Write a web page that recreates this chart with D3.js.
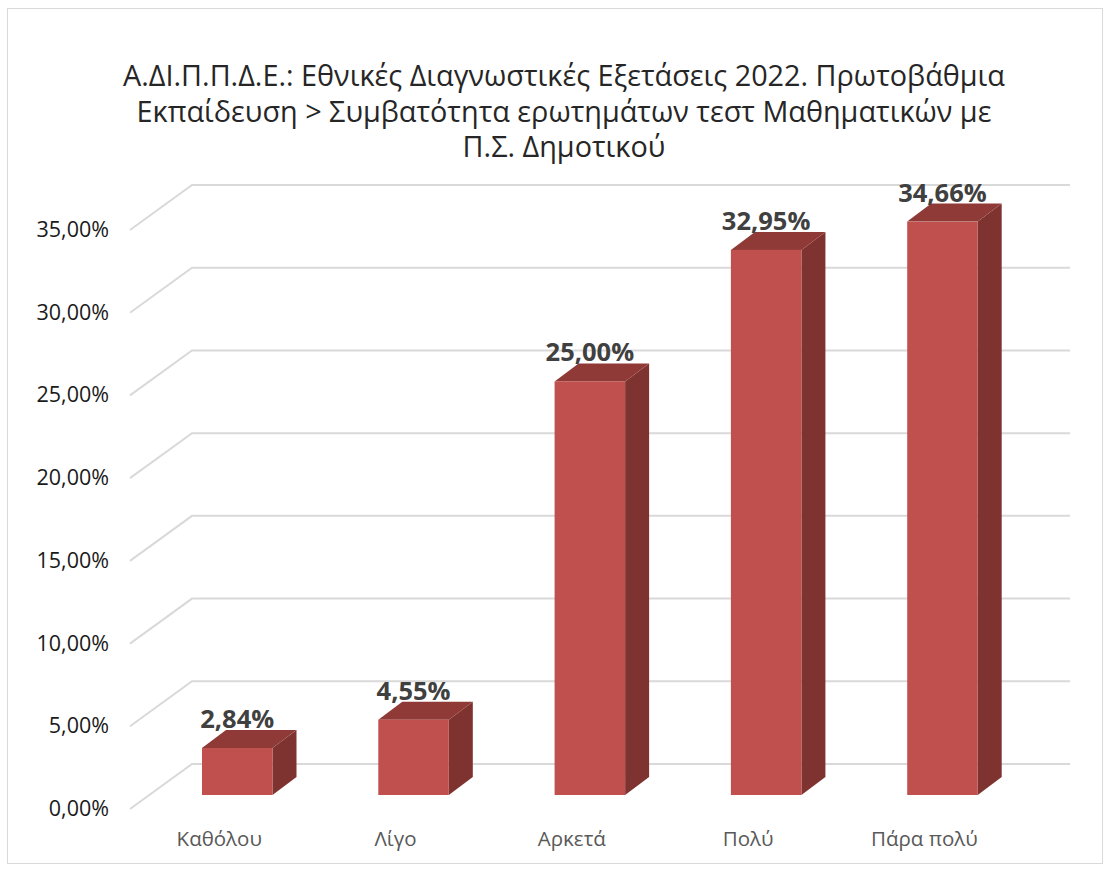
<!DOCTYPE html>
<html><head><meta charset="utf-8"><script src="https://cdn.jsdelivr.net/npm/d3@7/dist/d3.min.js"></script>
<style>html,body{margin:0;background:#fff}svg{display:block}text{font-family:"Open Sans","Noto Sans",sans-serif}</style></head><body>
<svg id="c" width="1110" height="872"></svg>
<script>
const categories=["Καθόλου","Λίγο","Αρκετά","Πολύ","Πάρα πολύ"];
const values=[2.84,4.55,25.00,32.95,34.66];
const labels=["2,84%","4,55%","25,00%","32,95%","34,66%"];
const ticks=[0,5,10,15,20,25,30,35];
const titleLines=["Α.ΔΙ.Π.Π.Δ.Ε.: Εθνικές Διαγνωστικές Εξετάσεις 2022. Πρωτοβάθμια","Εκπαίδευση > Συμβατότητα ερωτημάτων τεστ Μαθηματικών με","Π.Σ. Δημοτικού"];
const svg=d3.select("#c");
svg.append("rect").attr("x",7.5).attr("y",8.5).attr("width",1095).attr("height",855).attr("fill","#fff").attr("stroke","#d9d9d9");
const y=d3.scaleLinear().domain([0,35]).range([795,216]);
const x=d3.scaleBand().domain(categories).range([149.1,1030.6]).paddingInner(0.6).paddingOuter(0.3);
const frontOff=14,backOff=-31;
const g=svg.append("g").attr("fill","none").attr("stroke","#d9d9d9").attr("stroke-width",2);
g.selectAll("path").data(ticks).join("path").attr("d",t=>`M130,${y(t)+frontOff}L192,${y(t)+backOff}H1070`);
svg.append("g").selectAll("text").data(ticks).join("text").attr("x",109).attr("y",t=>y(t)+frontOff+7).attr("text-anchor","end").attr("font-size",21.5).attr("fill","#1a1a1a").text(t=>t.toFixed(2).replace(".",",")+"%");
const w=x.bandwidth(),d=24,h=18;
const bars=svg.append("g").selectAll("g").data(values).join("g");
const bx=(v,i)=>x(categories[i]);
bars.append("path").attr("fill","#7f3330").attr("d",(v,i)=>{const l=bx(v,i)+w;return `M${l},${y(v)}l${d},${-h}V${y(0)-h}l${-d},${h}Z`;});
bars.append("path").attr("fill","#8f3a37").attr("d",(v,i)=>{const l=bx(v,i);return `M${l},${y(v)}l${d},${-h}h${w}l${-d},${h}Z`;});
bars.append("rect").attr("fill","#c0504d").attr("x",bx).attr("y",v=>y(v)).attr("width",w).attr("height",v=>y(0)-y(v));
bars.append("text").attr("x",(v,i)=>bx(v,i)+w/2).attr("y",v=>y(v)-20).attr("text-anchor","middle").attr("font-size",25.5).attr("font-weight",700).attr("fill","#404040").text((v,i)=>labels[i]);
svg.append("g").selectAll("text").data(categories).join("text").attr("x",c=>x(c)+w/2-18).attr("y",846).attr("text-anchor","middle").attr("font-size",20.5).attr("fill","#595959").text(c=>c);
svg.append("g").selectAll("text").data(titleLines).join("text").attr("x",564).attr("y",(t,i)=>86+i*35.5).attr("text-anchor","middle").attr("font-size",28.8).attr("fill","#262626").text(t=>t);
</script></body></html>
